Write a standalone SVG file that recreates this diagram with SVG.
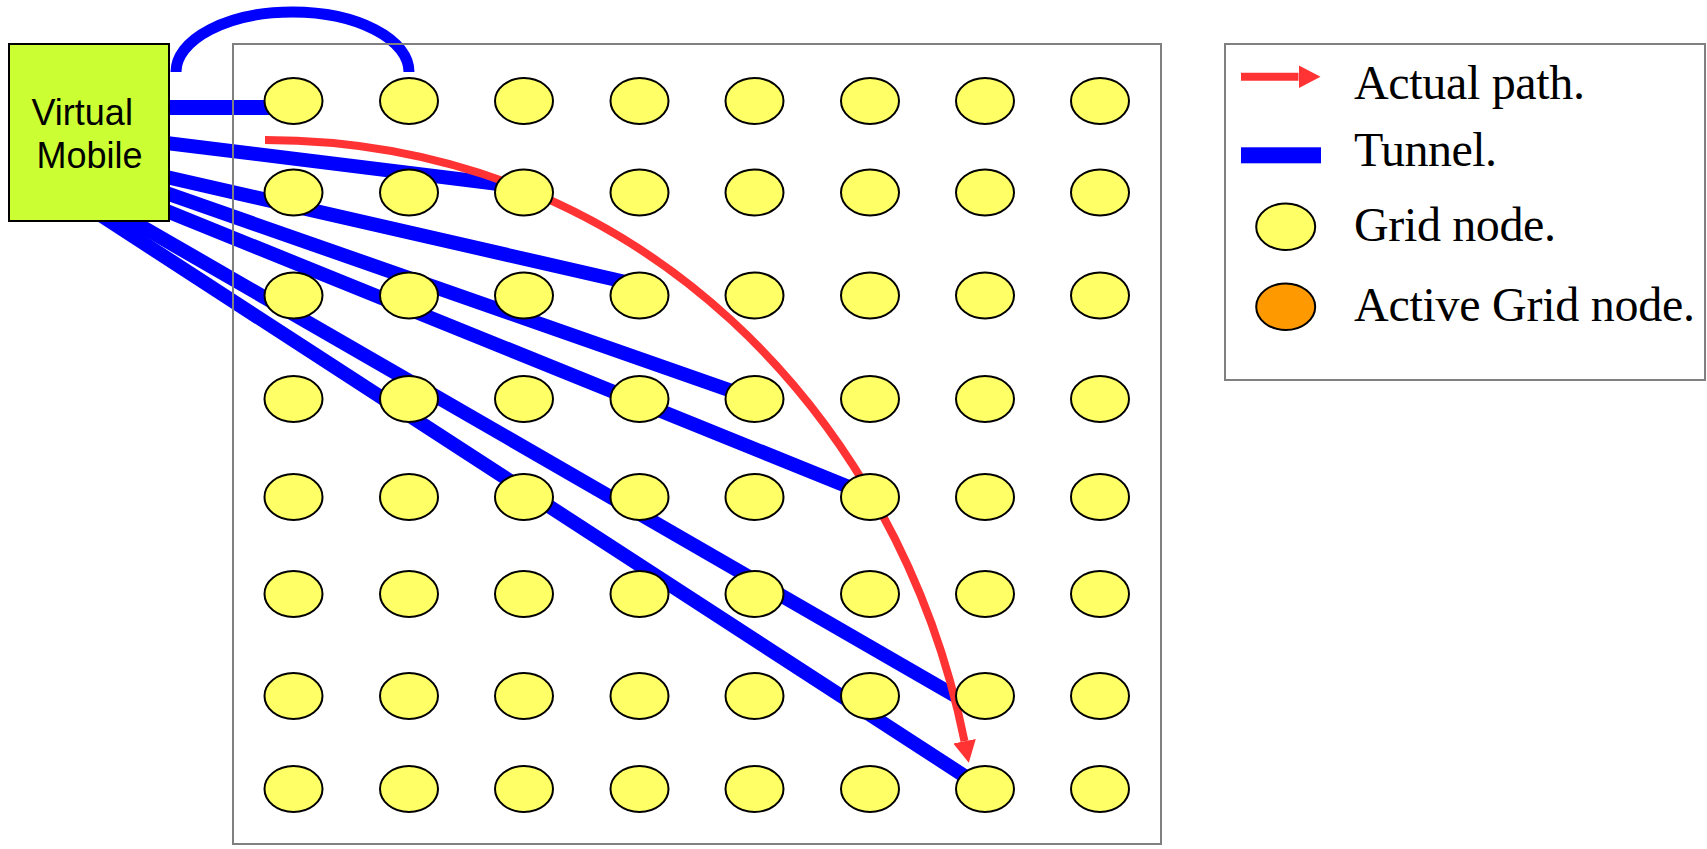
<svg xmlns="http://www.w3.org/2000/svg" width="1707" height="849" viewBox="0 0 1707 849">
<style>
.frame{fill:none;stroke:#808080;stroke-width:2}
.tun{fill:none;stroke:#0000FF;stroke-width:14;stroke-linecap:butt}
.path{fill:none;stroke:#FF3333;stroke-width:8}
.gn{fill:#FFFF66;stroke:#000;stroke-width:2}
.an{fill:#FF9900;stroke:#000;stroke-width:2}
.vm{fill:#CCFF33;stroke:#000;stroke-width:2}
.vt{font-family:"Liberation Sans",Arial,sans-serif;font-size:36px;fill:#000}
.lt{font-family:"Liberation Serif","Times New Roman",serif;font-size:48px;fill:#000}
</style>
<defs>
<marker id="ah" markerUnits="userSpaceOnUse" markerWidth="22" markerHeight="23" refX="0" refY="11.5" orient="auto" viewBox="0 0 22 23">
<path d="M0,0 L22,11.5 L0,23 Z" fill="#FF3333"/>
</marker>
</defs>
<rect width="1707" height="849" fill="#fff"/>
<g id="connectors">
<path class="tun" d="M176,72 A116.5,60 0 0 1 409,72" style="stroke-width:11"/>
<path class="tun" d="M160,107.5 L280,107.5" style="stroke-width:15"/>
<path class="tun" d="M150,141 L515,186"/>
<path class="tun" d="M150,173.2 L630,283"/>
<path class="tun" d="M150,187.4 L740,393.9"/>
<path class="tun" d="M150,204.3 L855,489.5"/>
<path class="tun" d="M95.7,200 L968,703.3"/>
<path class="tun" d="M77.2,200 L975,782.8"/>
<path id="actual-path" class="path" d="M265,140 C640,140 900,420 964.5,741.3" marker-end="url(#ah)"/>
</g>
<rect id="grid-frame" class="frame" x="233" y="44" width="928" height="800"/>
<g id="virtual-mobile">
<rect class="vm" x="9" y="44" width="160" height="177"/>
<text class="vt" x="31.5" y="125">Virtual</text>
<text class="vt" x="36.5" y="168">Mobile</text>
</g>
<g id="grid">
<g id="n1-1"><ellipse class="gn" cx="293.5" cy="101" rx="29" ry="23"/></g>
<g id="n1-2"><ellipse class="gn" cx="409" cy="101" rx="29" ry="23"/></g>
<g id="n1-3"><ellipse class="gn" cx="524" cy="101" rx="29" ry="23"/></g>
<g id="n1-4"><ellipse class="gn" cx="639.5" cy="101" rx="29" ry="23"/></g>
<g id="n1-5"><ellipse class="gn" cx="754.5" cy="101" rx="29" ry="23"/></g>
<g id="n1-6"><ellipse class="gn" cx="870" cy="101" rx="29" ry="23"/></g>
<g id="n1-7"><ellipse class="gn" cx="985" cy="101" rx="29" ry="23"/></g>
<g id="n1-8"><ellipse class="gn" cx="1100" cy="101" rx="29" ry="23"/></g>
<g id="n2-1"><ellipse class="gn" cx="293.5" cy="192.5" rx="29" ry="23"/></g>
<g id="n2-2"><ellipse class="gn" cx="409" cy="192.5" rx="29" ry="23"/></g>
<g id="n2-3"><ellipse class="gn" cx="524" cy="192.5" rx="29" ry="23"/></g>
<g id="n2-4"><ellipse class="gn" cx="639.5" cy="192.5" rx="29" ry="23"/></g>
<g id="n2-5"><ellipse class="gn" cx="754.5" cy="192.5" rx="29" ry="23"/></g>
<g id="n2-6"><ellipse class="gn" cx="870" cy="192.5" rx="29" ry="23"/></g>
<g id="n2-7"><ellipse class="gn" cx="985" cy="192.5" rx="29" ry="23"/></g>
<g id="n2-8"><ellipse class="gn" cx="1100" cy="192.5" rx="29" ry="23"/></g>
<g id="n3-1"><ellipse class="gn" cx="293.5" cy="295.5" rx="29" ry="23"/></g>
<g id="n3-2"><ellipse class="gn" cx="409" cy="295.5" rx="29" ry="23"/></g>
<g id="n3-3"><ellipse class="gn" cx="524" cy="295.5" rx="29" ry="23"/></g>
<g id="n3-4"><ellipse class="gn" cx="639.5" cy="295.5" rx="29" ry="23"/></g>
<g id="n3-5"><ellipse class="gn" cx="754.5" cy="295.5" rx="29" ry="23"/></g>
<g id="n3-6"><ellipse class="gn" cx="870" cy="295.5" rx="29" ry="23"/></g>
<g id="n3-7"><ellipse class="gn" cx="985" cy="295.5" rx="29" ry="23"/></g>
<g id="n3-8"><ellipse class="gn" cx="1100" cy="295.5" rx="29" ry="23"/></g>
<g id="n4-1"><ellipse class="gn" cx="293.5" cy="399" rx="29" ry="23"/></g>
<g id="n4-2"><ellipse class="gn" cx="409" cy="399" rx="29" ry="23"/></g>
<g id="n4-3"><ellipse class="gn" cx="524" cy="399" rx="29" ry="23"/></g>
<g id="n4-4"><ellipse class="gn" cx="639.5" cy="399" rx="29" ry="23"/></g>
<g id="n4-5"><ellipse class="gn" cx="754.5" cy="399" rx="29" ry="23"/></g>
<g id="n4-6"><ellipse class="gn" cx="870" cy="399" rx="29" ry="23"/></g>
<g id="n4-7"><ellipse class="gn" cx="985" cy="399" rx="29" ry="23"/></g>
<g id="n4-8"><ellipse class="gn" cx="1100" cy="399" rx="29" ry="23"/></g>
<g id="n5-1"><ellipse class="gn" cx="293.5" cy="497" rx="29" ry="23"/></g>
<g id="n5-2"><ellipse class="gn" cx="409" cy="497" rx="29" ry="23"/></g>
<g id="n5-3"><ellipse class="gn" cx="524" cy="497" rx="29" ry="23"/></g>
<g id="n5-4"><ellipse class="gn" cx="639.5" cy="497" rx="29" ry="23"/></g>
<g id="n5-5"><ellipse class="gn" cx="754.5" cy="497" rx="29" ry="23"/></g>
<g id="n5-6"><ellipse class="gn" cx="870" cy="497" rx="29" ry="23"/></g>
<g id="n5-7"><ellipse class="gn" cx="985" cy="497" rx="29" ry="23"/></g>
<g id="n5-8"><ellipse class="gn" cx="1100" cy="497" rx="29" ry="23"/></g>
<g id="n6-1"><ellipse class="gn" cx="293.5" cy="594" rx="29" ry="23"/></g>
<g id="n6-2"><ellipse class="gn" cx="409" cy="594" rx="29" ry="23"/></g>
<g id="n6-3"><ellipse class="gn" cx="524" cy="594" rx="29" ry="23"/></g>
<g id="n6-4"><ellipse class="gn" cx="639.5" cy="594" rx="29" ry="23"/></g>
<g id="n6-5"><ellipse class="gn" cx="754.5" cy="594" rx="29" ry="23"/></g>
<g id="n6-6"><ellipse class="gn" cx="870" cy="594" rx="29" ry="23"/></g>
<g id="n6-7"><ellipse class="gn" cx="985" cy="594" rx="29" ry="23"/></g>
<g id="n6-8"><ellipse class="gn" cx="1100" cy="594" rx="29" ry="23"/></g>
<g id="n7-1"><ellipse class="gn" cx="293.5" cy="696" rx="29" ry="23"/></g>
<g id="n7-2"><ellipse class="gn" cx="409" cy="696" rx="29" ry="23"/></g>
<g id="n7-3"><ellipse class="gn" cx="524" cy="696" rx="29" ry="23"/></g>
<g id="n7-4"><ellipse class="gn" cx="639.5" cy="696" rx="29" ry="23"/></g>
<g id="n7-5"><ellipse class="gn" cx="754.5" cy="696" rx="29" ry="23"/></g>
<g id="n7-6"><ellipse class="gn" cx="870" cy="696" rx="29" ry="23"/></g>
<g id="n7-7"><ellipse class="gn" cx="985" cy="696" rx="29" ry="23"/></g>
<g id="n7-8"><ellipse class="gn" cx="1100" cy="696" rx="29" ry="23"/></g>
<g id="n8-1"><ellipse class="gn" cx="293.5" cy="789" rx="29" ry="23"/></g>
<g id="n8-2"><ellipse class="gn" cx="409" cy="789" rx="29" ry="23"/></g>
<g id="n8-3"><ellipse class="gn" cx="524" cy="789" rx="29" ry="23"/></g>
<g id="n8-4"><ellipse class="gn" cx="639.5" cy="789" rx="29" ry="23"/></g>
<g id="n8-5"><ellipse class="gn" cx="754.5" cy="789" rx="29" ry="23"/></g>
<g id="n8-6"><ellipse class="gn" cx="870" cy="789" rx="29" ry="23"/></g>
<g id="n8-7"><ellipse class="gn" cx="985" cy="789" rx="29" ry="23"/></g>
<g id="n8-8"><ellipse class="gn" cx="1100" cy="789" rx="29" ry="23"/></g>
</g>
<g id="legend">
<rect class="frame" x="1225" y="44" width="480" height="336"/>
<path class="path" d="M1241,76.7 L1298.5,76.7" marker-end="url(#ah)"/>
<text class="lt" x="1354" y="99" textLength="231">Actual path.</text>
<rect x="1241" y="147.3" width="80" height="16" fill="#0000FF"/>
<text class="lt" x="1354" y="166" textLength="143">Tunnel.</text>
<ellipse class="gn" cx="1285.7" cy="226.7" rx="29.5" ry="23.3"/>
<text class="lt" x="1354" y="240.7" textLength="202">Grid node.</text>
<ellipse class="an" cx="1285.7" cy="306.7" rx="29.5" ry="23.3"/>
<text class="lt" x="1354" y="320.7" textLength="341">Active Grid node.</text>
</g>
</svg>
